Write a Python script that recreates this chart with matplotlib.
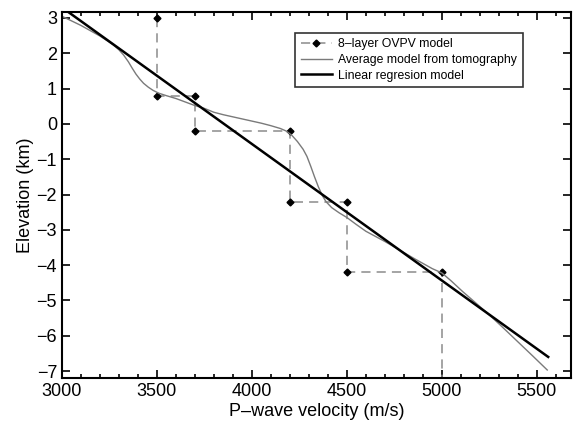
import matplotlib
matplotlib.use("Agg")
import matplotlib.pyplot as plt
from matplotlib.ticker import MultipleLocator

plt.rcParams['font.family'] = ['Liberation Sans', 'DejaVu Sans']

# 8-layer OVPV model (step profile)
ovpv_velocity = [3500, 3500, 3700, 3700, 4200, 4200, 4500, 4500, 5000, 5000]
ovpv_elevation = [3.0, 0.8, 0.8, -0.2, -0.2, -2.2, -2.2, -4.2, -4.2, -7.2]

# Average model from tomography
tomo_velocity = [3000, 3050, 3100, 3150, 3200, 3240, 3270, 3300, 3325, 3350,
                 3370, 3390, 3410, 3430, 3455, 3480, 3510, 3550, 3600, 3650,
                 3700, 3750, 3800, 3850, 3900, 3950, 4000, 4050, 4100, 4150,
                 4180, 4210, 4240, 4270, 4290, 4310, 4330, 4350, 4370, 4390,
                 4420, 4460, 4500, 4550, 4600, 4700, 4780, 4860, 4950, 5000,
                 5050, 5110, 5170, 5240, 5320, 5400, 5480, 5555]
tomo_elevation = [3.05, 2.92, 2.79, 2.64, 2.49, 2.35, 2.24, 2.1, 1.95, 1.76,
                  1.58, 1.41, 1.27, 1.15, 1.04, 0.95, 0.87, 0.8, 0.72, 0.62,
                  0.52, 0.44, 0.33, 0.26, 0.2, 0.14, 0.08, 0.02, -0.05, -0.13,
                  -0.2, -0.32, -0.5, -0.72, -0.92, -1.2, -1.5, -1.78, -2.02, -2.2,
                  -2.37, -2.52, -2.65, -2.85, -3.04, -3.33, -3.58, -3.83, -4.1, -4.22,
                  -4.45, -4.75, -5.03, -5.36, -5.76, -6.17, -6.58, -6.97]

# Linear regression model
reg_velocity = [3000, 5560]
reg_elevation = [3.3, -6.6]

fig = plt.figure(figsize=(5.73, 4.22), dpi=100)
ax = fig.add_axes([0.108, 0.104, 0.8885, 0.8676])

ax.plot(ovpv_velocity, ovpv_elevation, color='#8c8c8c', linestyle=(0, (6, 4)),
        linewidth=1.1, marker='D', markersize=3.5, markerfacecolor='black',
        markeredgecolor='black', markevery=list(range(9)),
        label='8\u2013layer OVPV model')
ax.plot(tomo_velocity, tomo_elevation, color='#7a7a7a', linewidth=1.0,
        label='Average model from tomography')
ax.plot(reg_velocity, reg_elevation, color='black', linewidth=1.8,
        label='Linear regresion model')

ax.set_xlim(3000, 5680)
ax.set_ylim(-7.2, 3.17)
ax.xaxis.set_major_locator(MultipleLocator(500))
ax.xaxis.set_minor_locator(MultipleLocator(100))
ax.yaxis.set_major_locator(MultipleLocator(1))
ax.tick_params(which='both', direction='in', top=True, right=True,
               labelsize=13, width=1.2)
ax.tick_params(which='major', length=6)
ax.tick_params(which='minor', length=3)
for s in ax.spines.values():
    s.set_linewidth(1.5)

ax.set_xlabel('P\u2013wave velocity (m/s)', fontsize=13, labelpad=2)
ax.set_ylabel('Elevation (km)', fontsize=13, labelpad=2)

leg = ax.legend(loc='upper left', bbox_to_anchor=(0.458, 0.943), fontsize=8.8,
                frameon=True, fancybox=False, edgecolor='black',
                handlelength=2.6, borderpad=0.45, labelspacing=0.3,
                handletextpad=0.5, borderaxespad=0)
leg.get_frame().set_linewidth(1.2)

fig.savefig('out.png', dpi=100)
